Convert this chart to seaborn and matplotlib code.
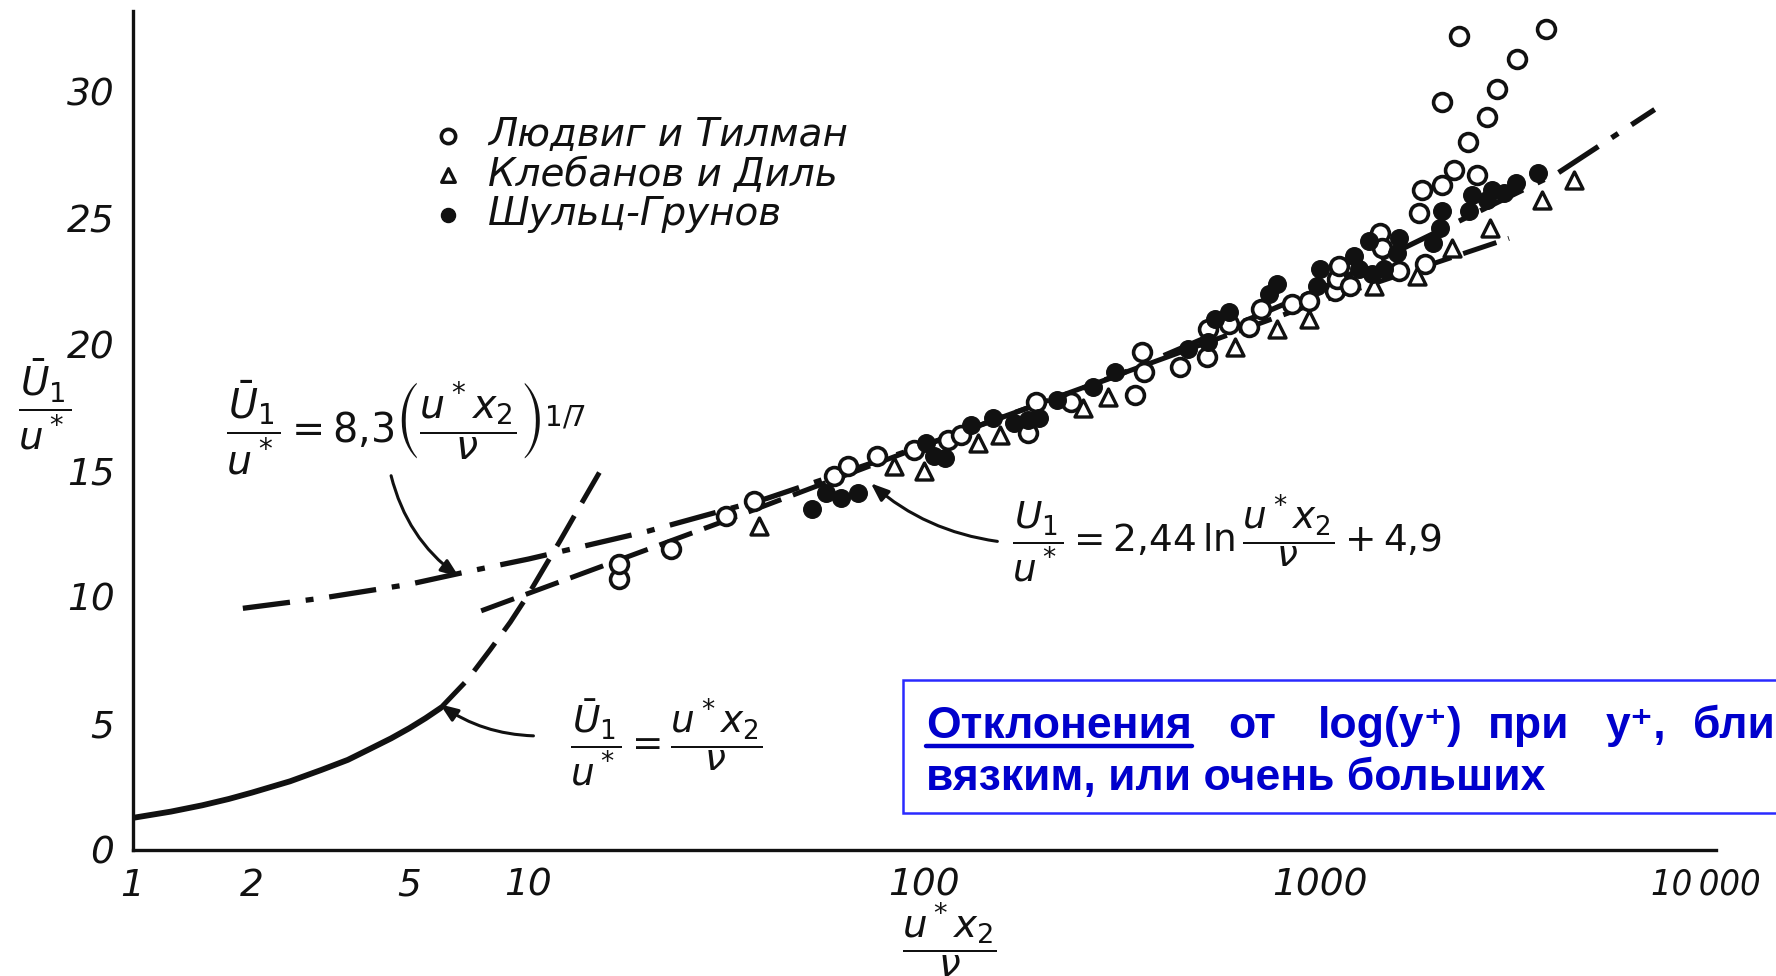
import matplotlib
matplotlib.use("Agg")
import matplotlib.pyplot as plt
import matplotlib.transforms as mtransforms
import seaborn as sns
from matplotlib.ticker import FixedLocator, FixedFormatter, NullLocator
from matplotlib.patches import Rectangle
from matplotlib.lines import Line2D
from matplotlib.font_manager import FontProperties

# ---------------- data ----------------
# Людвиг и Тилман (open circles)
ludwig_x = [16.9, 16.9, 22.9, 31.5, 37.2, 59, 64, 76, 94, 115, 124, 183, 192, 235,
            340, 358, 354, 442, 517, 522, 590, 661, 711, 847, 935, 1091, 1105, 1117,
            1191, 1416, 1432, 1581, 1842, 1777, 1808, 2033, 2177, 2489, 2362, 2643,
            2033, 2801, 3147, 2244, 3724]
ludwig_y = [10.7, 11.3, 11.9, 13.2, 13.8, 14.8, 15.2, 15.6, 15.8, 16.2, 16.4, 16.5, 17.7, 17.7,
            18.0, 18.9, 19.7, 19.1, 19.5, 20.6, 20.8, 20.7, 21.4, 21.6, 21.7, 22.1, 22.6, 23.1,
            22.3, 24.4, 23.8, 22.9, 23.2, 25.2, 26.1, 26.3, 26.9, 26.7, 28.0, 29.0,
            29.6, 30.1, 31.3, 32.2, 32.5]

# Клебанов и Диль (open triangles)
kleb_x = [38.2, 84, 100, 137, 155, 252, 292, 608, 776, 935, 1369, 1758, 2153, 2690, 3637, 4385]
kleb_y = [12.8, 15.2, 15.0, 16.1, 16.4, 17.5, 17.9, 19.9, 20.6, 21.0, 22.3, 22.7, 23.8, 24.6, 25.7, 26.5]

# Шульц-Грунов (filled circles)
schulz_x = [52, 56.5, 61.6, 68, 101, 106, 113, 131, 149, 169, 183, 195, 216, 267, 303,
            465, 522, 542, 587, 741, 776, 981, 1000, 1219, 1254, 1352, 1449, 1329, 1581,
            1563, 1930, 2010, 2033, 2377, 2421, 2643, 2720, 2918, 3117, 3543]
schulz_y = [13.5, 14.1, 13.9, 14.1, 16.1, 15.6, 15.5, 16.8, 17.1, 16.9, 17.0, 17.1, 17.8, 18.3, 18.9,
            19.8, 20.1, 21.0, 21.3, 22.0, 22.4, 22.3, 23.0, 23.5, 23.0, 22.8, 23.0, 24.1, 24.2,
            23.6, 24.0, 24.6, 25.3, 25.3, 25.9, 25.7, 26.1, 26.0, 26.4, 26.8]

# theoretical curves
lin_solid_x = [1, 1.25, 1.5, 1.75, 2, 2.5, 3, 3.5, 4, 4.5, 5, 5.5, 6]
lin_solid_y = [1.25, 1.5, 1.75, 2.0, 2.25, 2.7, 3.15, 3.55, 4.0, 4.4, 4.8, 5.2, 5.6]
lin_dash_x = [6, 7, 8, 9, 10, 11, 12, 13.5, 15.6]
lin_dash_y = [5.6, 6.7, 7.9, 9.0, 10.1, 11.2, 12.2, 13.6, 15.3]

pow_x = [1.9, 3, 5, 7, 10, 20, 40, 100, 300, 1000, 2000, 4000, 7000]
pow_y = [9.55, 9.95, 10.5, 11.0, 11.5, 12.6, 13.9, 16.0, 18.7, 22.2, 24.5, 26.8, 29.3]

log_x = [7.6, 30, 100, 1000, 3000]
log_y = [9.45, 12.9, 16.0, 21.7, 24.2]

x_ticks = [1, 2, 5, 10, 20, 50, 100, 200, 500, 1000, 2000, 5000, 10000]
x_ticklabels = ["1", "2", "5", "10", "", "", "100", "", "", "1000", "", "", "10\u2009000"]
y_ticks = [0, 5, 10, 15, 20, 25, 30]
y_ticklabels = ["0", "5", "10", "15", "20", "25", "30"]

legend_labels = ["Людвиг и Тилман", "Клебанов и Диль", "Шульц-Грунов"]

# ---------------- figure ----------------
sns.set_theme(style="white")
plt.rcParams["font.family"] = ["DejaVu Sans"]
plt.rcParams["mathtext.fontset"] = "dejavusans"

W, H = 1776, 976
fig = plt.figure(figsize=(W / 100, H / 100), dpi=100)
fig.patch.set_facecolor("white")
ax = fig.add_axes([132.5 / W, 126.5 / H, (1716 - 132.5) / W, (965 - 126.5) / H])
ax.set_facecolor("white")
ax.set_xscale("log")

ink = "#111111"

# curves
sns.lineplot(x=lin_solid_x, y=lin_solid_y, ax=ax, color=ink, lw=4.2, estimator=None, sort=False)
sns.lineplot(x=lin_dash_x, y=lin_dash_y, ax=ax, color=ink, lw=3.6, estimator=None, sort=False)
ax.lines[-1].set_dashes([7, 3])
sns.lineplot(x=pow_x, y=pow_y, ax=ax, color=ink, lw=3.8, estimator=None, sort=False)
ax.lines[-1].set_dashes([9, 3, 1.5, 3])
sns.lineplot(x=log_x, y=log_y, ax=ax, color=ink, lw=3.6, estimator=None, sort=False)
ax.lines[-1].set_dashes([7, 2.5])

# data
sns.scatterplot(x=ludwig_x, y=ludwig_y, ax=ax, marker="o", s=165, color="white",
                edgecolor=ink, linewidth=2.6, label=legend_labels[0], zorder=4)
sns.scatterplot(x=kleb_x, y=kleb_y, ax=ax, marker="^", s=150, color="white",
                edgecolor=ink, linewidth=2.4, label=legend_labels[1], zorder=4)
sns.scatterplot(x=schulz_x, y=schulz_y, ax=ax, marker="o", s=160, color=ink,
                edgecolor=ink, linewidth=1, label=legend_labels[2], zorder=4)

ax.set_xlim(1, 10000)
ax.set_ylim(0, 33.2)

# axes styling
for s in ["top", "right"]:
    ax.spines[s].set_visible(False)
for s in ["left", "bottom"]:
    ax.spines[s].set_color(ink)
    ax.spines[s].set_linewidth(2.4)

tick_font = FontProperties(family="DejaVu Sans", style="italic", size=27)
last_font = FontProperties(family="DejaVu Sans", style="italic", stretch="condensed", size=26)
ax.xaxis.set_major_locator(FixedLocator(x_ticks))
ax.xaxis.set_major_formatter(FixedFormatter(x_ticklabels))
ax.xaxis.set_minor_locator(NullLocator())
ax.yaxis.set_major_locator(FixedLocator(y_ticks))
ax.yaxis.set_major_formatter(FixedFormatter(y_ticklabels))
ax.tick_params(axis="x", direction="in", length=11, width=2.2, color=ink, pad=13, labelcolor=ink)
ax.tick_params(axis="y", direction="in", length=11, width=2.2, color=ink, pad=13, labelcolor=ink)
for lab in ax.get_xticklabels() + ax.get_yticklabels():
    lab.set_fontproperties(tick_font)
xlabs = ax.get_xticklabels()
xlabs[-1].set_fontproperties(last_font)
xlabs[-1].set_transform(xlabs[-1].get_transform() +
                        mtransforms.ScaledTranslation(-10 / 100, 0, fig.dpi_scale_trans))

# legend
leg_font = FontProperties(family="DejaVu Sans", style="italic", size=28)
leg = ax.legend(loc="upper left", bbox_to_anchor=(430 / W, 1 - 116 / H), bbox_transform=fig.transFigure,
                frameon=False, prop=leg_font, handlelength=0.9, handletextpad=0.6,
                labelspacing=0.04, borderpad=0, borderaxespad=0, markerscale=0.8)
for t in leg.get_texts():
    t.set_color(ink)

# axis labels (fractions)
fig.text(45 / W, 1 - 405 / H, r"$\dfrac{\bar{U}_1}{u^*}$", ha="center", va="center", fontsize=28, color=ink)
fig.text(949 / W, 1 - 940 / H, r"$\dfrac{u^* x_2}{\nu}$", ha="center", va="center", fontsize=28, color=ink)

# formulas
fig.text(226 / W, 1 - 428 / H, r"$\dfrac{\bar{U}_1}{u^*}=8{,}3\left(\dfrac{u^* x_2}{\nu}\right)^{1/7}$",
         ha="left", va="center", fontsize=28.5, color=ink)
fig.text(1012 / W, 1 - 538 / H, r"$\dfrac{U_1}{u^*}=2{,}44\,\ln\dfrac{u^* x_2}{\nu}+4{,}9$",
         ha="left", va="center", fontsize=27, color=ink)
fig.text(570 / W, 1 - 742 / H, r"$\dfrac{\bar{U}_1}{u^*}=\dfrac{u^* x_2}{\nu}$",
         ha="left", va="center", fontsize=27, color=ink)

# arrows
arr = dict(arrowstyle="-|>,head_length=0.9,head_width=0.35", color=ink, lw=2.2, shrinkA=0, shrinkB=0)
ax.annotate("", xy=(6.68, 10.8), xytext=(4.5, 14.8),
            arrowprops=dict(arr, connectionstyle="arc3,rad=0.18"))
ax.annotate("", xy=(73.3, 14.5), xytext=(153, 12.2),
            arrowprops=dict(arr, connectionstyle="arc3,rad=-0.15"))
ax.annotate("", xy=(5.98, 5.75), xytext=(10.3, 4.5),
            arrowprops=dict(arr, connectionstyle="arc3,rad=-0.15"))

# blue annotation box (slide overlay)
blue = "#0000cc"
fig.patches.append(Rectangle((903 / W, 1 - 813 / H), 1.0, (813 - 680) / H, transform=fig.transFigure,
                             facecolor="white", edgecolor="#2a2aff", lw=1.8, zorder=10))
bfont = FontProperties(family=["Liberation Sans", "DejaVu Sans"], weight="bold", size=32)
words1 = ["Отклонения", "от", "log(y⁺)", "при", "y⁺,", "бли"]
xs1 = [926, 1228, 1318, 1488, 1606, 1693]
texts = []
for w, xp in zip(words1, xs1):
    texts.append(fig.text(xp / W, 1 - 738 / H, w, fontproperties=bfont, color=blue,
                          ha="left", va="baseline", zorder=11))
fig.text(926 / W, 1 - 790 / H, "вязким, или очень больших", fontproperties=bfont, color=blue,
         ha="left", va="baseline", zorder=11)

fig.canvas.draw()
bb = texts[0].get_window_extent()
fig.add_artist(Line2D([bb.x0 / W, bb.x1 / W], [(H - 746) / H] * 2, transform=fig.transFigure,
                      color=blue, lw=3.2, zorder=11))

fig.savefig("out.png", dpi=100, facecolor="white")
